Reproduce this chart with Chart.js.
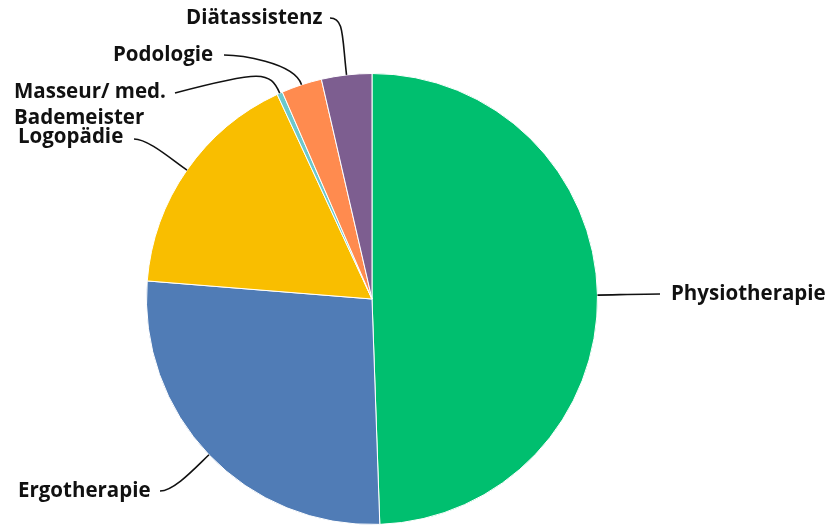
<!DOCTYPE html>
<html>
<head>
<meta charset="utf-8">
<script src="https://cdn.jsdelivr.net/npm/chart.js@4.4.0/dist/chart.umd.min.js"></script>
<style>
  html, body { margin: 0; padding: 0; background: #fff; }
  #wrap { width: 830px; height: 525px; position: relative; }
</style>
</head>
<body>
<div id="wrap"><canvas id="pie" width="830" height="525"></canvas></div>
<script>
// Share of each profession (percent), clockwise from 12 o'clock
const categories = ['Physiotherapie', 'Ergotherapie', 'Logopädie', 'Masseur/ med. Bademeister', 'Podologie', 'Diätassistenz'];
const shares = [49.4, 26.8, 16.8, 0.4, 2.9, 3.6];
const sliceColors = ['#00bf6f', '#507cb6', '#f9be00', '#6bc8cd', '#ff8b4f', '#7d5e90'];

// where each label sits and how its leader bends
const labelLayout = [
  { lines: ['Physiotherapie'], end: [660, 294], tx: 671, ty: 294, out: 20 },
  { lines: ['Ergotherapie'], end: [160, 491], tx: 18, ty: 491, out: 20 },
  { lines: ['Logopädie'], end: [134, 139], tx: 18, ty: 137, out: 20 },
  { lines: ['Masseur/ med.', 'Bademeister'], end: [175, 93], tx: 14, ty: 92, out: 24, c2: [262, 70] },
  { lines: ['Podologie'], end: [224, 55], tx: 113, ty: 55, out: 24 },
  { lines: ['Diätassistenz'], end: [330, 18], tx: 186, ty: 18, out: 40 }
];

const leaderLabels = {
  id: 'leaderLabels',
  afterDatasetsDraw(chart) {
    const ctx = chart.ctx;
    const arcs = chart.getDatasetMeta(0).data;
    ctx.save();
    arcs.forEach((arc, i) => {
      const lay = labelLayout[i];
      const mid = (arc.startAngle + arc.endAngle) / 2;
      const dx = Math.cos(mid), dy = Math.sin(mid);
      const sx = arc.x + dx * arc.outerRadius;
      const sy = arc.y + dy * arc.outerRadius;
      const [ex, ey] = lay.end;
      const dir = ex < sx ? 1 : -1;
      const c2 = lay.c2 || [ex + dir * 14, ey];
      ctx.beginPath();
      ctx.strokeStyle = '#111';
      ctx.lineWidth = 1.6;
      ctx.moveTo(sx, sy);
      ctx.bezierCurveTo(sx + dx * lay.out, sy + dy * lay.out, c2[0], c2[1], ex, ey);
      ctx.stroke();

      ctx.fillStyle = '#111';
      ctx.font = 'bold 20.5px "Open Sans", sans-serif';
      ctx.textAlign = 'left';
      ctx.textBaseline = 'middle';
      lay.lines.forEach((t, k) => ctx.fillText(t, lay.tx, lay.ty + k * 26));
    });
    ctx.restore();
  }
};

new Chart(document.getElementById('pie').getContext('2d'), {
  type: 'pie',
  data: {
    labels: categories,
    datasets: [{
      data: shares,
      backgroundColor: sliceColors,
      borderColor: '#ffffff',
      borderWidth: 1
    }]
  },
  options: {
    responsive: false,
    animation: false,
    layout: { padding: { top: 73, bottom: 0, left: 146, right: 232 } },
    plugins: {
      legend: { display: false },
      tooltip: { enabled: false }
    }
  },
  plugins: [leaderLabels]
});
</script>
</body>
</html>
